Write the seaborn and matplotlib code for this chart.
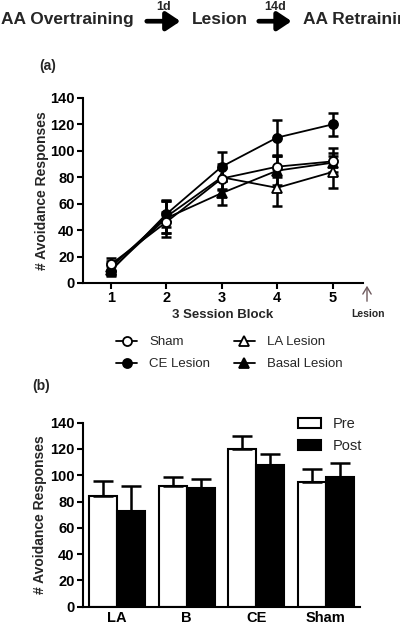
import numpy as np
import pandas as pd
import matplotlib
matplotlib.use('Agg')
import matplotlib.pyplot as plt
import seaborn as sns

# panel (a): mean avoidance responses per 3-session block
blocks = [1, 2, 3, 4, 5]
sham = [14, 46, 79, 88, 92]
sham_err = [5, 8, 8, 8, 10]
ce = [9, 52, 88, 110, 120]
ce_err = [4, 10, 11, 13, 9]
la = [12, 50, 80, 72, 84]
la_err = [5, 12, 10, 14, 12]
basal = [10, 49, 68, 85, 91]
basal_err = [4, 14, 9, 11, 7]

# panel (b): pre / post lesion
regions = ['LA', 'B', 'CE', 'Sham']
pre = [84, 92, 120, 95]
pre_err = [12, 7, 10, 10]
post = [73, 90, 108, 99]
post_err = [19, 7, 8, 10]

sns.set_theme(style='ticks')
plt.rcParams['font.family'] = ['Liberation Sans', 'DejaVu Sans']
plt.rcParams['axes.linewidth'] = 1.5
plt.rcParams['xtick.major.width'] = 1.5
plt.rcParams['ytick.major.width'] = 1.5
plt.rcParams['xtick.major.size'] = 4
plt.rcParams['ytick.major.size'] = 4
plt.rcParams['xtick.color'] = 'black'
plt.rcParams['ytick.color'] = 'black'
plt.rcParams['axes.edgecolor'] = 'black'

fig = plt.figure(figsize=(4, 6.24), dpi=100)

# header
fig.text(0.002, 0.968, 'AA Overtraining', fontsize=12.5, fontweight='bold', va='center')
fig.text(0.48, 0.968, 'Lesion', fontsize=12.5, fontweight='bold', va='center')
fig.text(0.757, 0.968, 'AA Retraining', fontsize=12.5, fontweight='bold', va='center')
for x0, x1, lab in [(0.36, 0.458, '1d'), (0.64, 0.736, '14d')]:
    fig.add_artist(matplotlib.patches.FancyArrowPatch(
        (x0, 0.966), (x1, 0.966), transform=fig.transFigure,
        arrowstyle='-|>,head_length=0.6,head_width=0.4', lw=3.4,
        mutation_scale=14, color='black'))
    fig.text((x0 + x1) / 2, 0.988, lab, fontsize=9, fontweight='bold', ha='center', va='center')

# ---- panel (a)
ax1 = fig.add_axes([0.2075, 0.5465, 0.70, 0.2965])
series = [
    ('Basal Lesion', basal, basal_err, '^', 'black'),
    ('LA Lesion', la, la_err, '^', 'white'),
    ('CE Lesion', ce, ce_err, 'o', 'black'),
    ('Sham', sham, sham_err, 'o', 'white'),
]
for name, vals, errs, mk, face in series:
    ax1.errorbar(blocks, vals, yerr=errs, fmt='none', ecolor='black',
                 elinewidth=1.8, capsize=3.5, capthick=1.8, zorder=2)
    sns.lineplot(x=blocks, y=vals, ax=ax1, color='black', lw=1.3,
                 marker=mk, markersize=6.5, markerfacecolor=face,
                 markeredgecolor='black', markeredgewidth=1.3,
                 label=name, zorder=3)

ax1.set_xlim(0.5, 5.55)
ax1.set_ylim(0, 140)
ax1.set_xticks(blocks)
ax1.set_yticks(range(0, 141, 20))
sns.despine(ax=ax1)
ax1.set_xlabel('3 Session Block', fontsize=9.5, fontweight='bold', labelpad=3)
ax1.set_ylabel('# Avoidance Responses', fontsize=10, fontweight='bold', labelpad=1)
ax1.tick_params(labelsize=10.5, pad=2)
for t in ax1.get_xticklabels() + ax1.get_yticklabels():
    t.set_fontweight('bold')

h, l = ax1.get_legend_handles_labels()
order = [l.index(n) for n in ['Sham', 'CE Lesion', 'LA Lesion', 'Basal Lesion']]
ax1.legend([h[i] for i in order], [l[i] for i in order], ncol=2,
           loc='upper left', bbox_to_anchor=(0.29, 1 - 336 / 624), bbox_transform=fig.transFigure,
           frameon=False, fontsize=9.5, handlelength=1.6, handletextpad=0.9,
           columnspacing=1.8, labelspacing=0.75, borderpad=0, borderaxespad=0)

fig.add_artist(matplotlib.patches.FancyArrowPatch(
    (0.9175, 1 - 304 / 624), (0.9175, 1 - 283 / 624), transform=fig.transFigure,
    arrowstyle='->,head_length=0.5,head_width=0.3', lw=1, mutation_scale=10,
    color='#6e5a5e'))
fig.text(0.92, 1 - 314 / 624, 'Lesion', fontsize=7.5, fontweight='bold', ha='center', va='center')
fig.text(0.098, 1 - 66 / 624, '(a)', fontsize=10, fontweight='bold', va='center')

# ---- panel (b)
ax2 = fig.add_axes([0.2075, 0.0277, 0.6925, 0.2949])
df = pd.DataFrame({
    'region': regions * 2,
    'value': pre + post,
    'phase': ['Pre'] * len(regions) + ['Post'] * len(regions),
})
sns.barplot(data=df, x='region', y='value', hue='phase', order=regions,
            hue_order=['Pre', 'Post'], palette=['white', 'black'],
            edgecolor='black', linewidth=1.5, errorbar=None, width=0.8,
            gap=0, ax=ax2, saturation=1)
for cont, errs in zip(ax2.containers, [pre_err, post_err]):
    xs = [b.get_x() + b.get_width() / 2 for b in cont]
    hs = [b.get_height() for b in cont]
    ax2.errorbar(xs, hs, yerr=[np.zeros(len(errs)), errs], fmt='none',
                 ecolor='black', elinewidth=1.8, capsize=7, capthick=1.8, zorder=1)

ax2.set_xlim(-0.49, 3.49)
ax2.set_ylim(0, 140)
ax2.set_yticks(range(0, 141, 20))
sns.despine(ax=ax2)
ax2.set_xlabel('')
ax2.set_ylabel('# Avoidance Responses', fontsize=10, fontweight='bold', labelpad=2)
ax2.tick_params(labelsize=10.5, pad=2)
ax2.tick_params(axis='x', length=0, pad=3)
for t in ax2.get_xticklabels() + ax2.get_yticklabels():
    t.set_fontweight('bold')
ax2.legend(loc='upper left', bbox_to_anchor=(0.745, 1 - 417 / 624),
           bbox_transform=fig.transFigure, frameon=False, fontsize=10.5,
           handlelength=1.6, handleheight=0.65, handletextpad=0.75,
           labelspacing=0.55, borderpad=0, borderaxespad=0)
fig.text(0.08, 1 - 386 / 624, '(b)', fontsize=10, fontweight='bold', va='center')

fig.savefig('out.png', dpi=100)
